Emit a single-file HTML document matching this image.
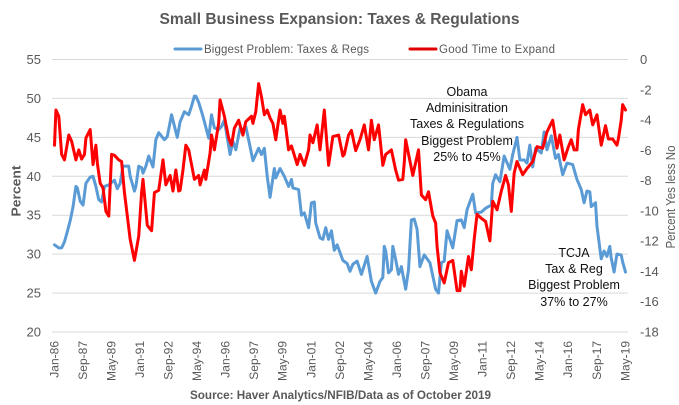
<!DOCTYPE html>
<html lang="en">
<head>
<meta charset="utf-8">
<title>Small Business Expansion: Taxes &amp; Regulations</title>
<style>
html,body{margin:0;padding:0;background:#fff;}
svg{display:block;font-family:"Liberation Sans",sans-serif;}
</style>
</head>
<body>
<svg id="chart" xmlns="http://www.w3.org/2000/svg" width="679" height="405" viewBox="0 0 679 405">
  <rect x="0" y="0" width="679" height="405" fill="#fff"/>
  <text x="339.5" y="24" text-anchor="middle" font-size="15.5" font-weight="bold" fill="#595959" textLength="360" lengthAdjust="spacingAndGlyphs">Small Business Expansion: Taxes &amp; Regulations</text>
  <g id="grid"></g>
  <g id="left-axis"></g>
  <g id="right-axis"></g>
  <g id="x-axis"></g>
  <g id="series"></g>
  <g>
    <g>
      <line x1="175" y1="49" x2="201" y2="49" stroke="#5B9BD5" stroke-width="3" stroke-linecap="round"/>
      <text x="204" y="53" font-size="11.5" fill="#595959" textLength="165" lengthAdjust="spacing">Biggest Problem: Taxes &amp; Regs</text>
    </g>
    <g>
      <line x1="410" y1="49" x2="436" y2="49" stroke="#E00000" stroke-width="3" stroke-linecap="round"/>
      <text x="439" y="53" font-size="11.5" fill="#595959" textLength="116" lengthAdjust="spacing">Good Time to Expand</text>
    </g>
  </g>
  <text transform="translate(20.5,191) rotate(-90)" text-anchor="middle" font-size="13" font-weight="bold" fill="#595959" textLength="51" lengthAdjust="spacingAndGlyphs">Percent</text>
  <text transform="translate(675,197) rotate(-90)" text-anchor="middle" font-size="12.5" fill="#595959" textLength="103" lengthAdjust="spacingAndGlyphs">Percent Yes less No</text>
  <g font-size="12.5" fill="#111" text-anchor="middle">
    <text x="467" y="96">Obama</text>
    <text x="467" y="112">Adminisitration</text>
    <text x="467" y="128">Taxes &amp; Regulations</text>
    <text x="467" y="145">Biggest Problem</text>
    <text x="467" y="161">25% to 45%</text>
  </g>
  <g font-size="12.5" fill="#111" text-anchor="middle">
    <text x="574" y="257">TCJA</text>
    <text x="574" y="273">Tax &amp; Reg</text>
    <text x="574" y="289">Biggest Problem</text>
    <text x="574" y="306">37% to 27%</text>
  </g>
  <text x="340.5" y="399" text-anchor="middle" font-size="12" font-weight="bold" fill="#595959" textLength="301" lengthAdjust="spacingAndGlyphs">Source: Haver Analytics/NFIB/Data as of October 2019</text>
</svg>
<script>
const xTickLabels = ["Jan-86","Sep-87","May-89","Jan-91","Sep-92","May-94","Jan-96","Sep-97","May-99","Jan-01","Sep-02","May-04","Jan-06","Sep-07","May-09","Jan-11","Sep-12","May-14","Jan-16","Sep-17","May-19"];
const xTickEveryMonths = 20;
const leftTicks = [55,50,45,40,35,30,25,20];
const rightTicks = [0,-2,-4,-6,-8,-10,-12,-14,-16,-18];

// Months since Jan-86, with the reading at each one (left axis, percent)
const taxesMonths = [0,3,5,7,9,11,13,15,16,18,20,22,25,27,29,31,33,35,38,40,42,44,46,48,52,53,56,57,59,61,62,64,66,69,71,73,77,79,82,86,88,91,94,96,98,99,101,104,108,110,112,115,117,119,123,
125,127,130,132,134,137,139,143,145,147,149,151,154,155,158,161,164,166,167,171,173,175,178,180,182,183,186,188,190,192,194,196,198,202,205,207,209,212,215,219,222,225,228,230,231,232,234,236,237,239,241,243,246,248,250,252,254,256,259,
263,265,267,269,271,273,275,279,282,285,287,289,293,295,299,302,306,307,309,312,315,319,321,324,326,329,331,333,335,337,341,343,345,348,351,353,356,359,363,366,
369,371,373,375,376,379,380,383,385,387,389,390,392,394,397,398,400];
const taxesValues = [31.2,30.8,30.8,31.6,32.9,34.3,36.1,38.7,38.5,36.8,36.3,39.1,39.9,40,38.7,37,36.7,38.7,38.9,39.2,39.5,38.4,39.1,41.3,41.3,40,38.1,38.7,41.3,41.1,40.4,41.3,42.6,41.2,44.7,45.6,44.7,45.1,47.9,45,47,48.3,47.9,49,50.3,50.3,49.5,47.7,44.9,47.9,46.2,46,46.4,47.2,42.8,
44.5,43.4,46.2,46,46.4,43.8,42,43.6,42.8,43.6,40,37.3,41,39.8,41,40,38.7,39.6,38.5,38.3,35,35.3,33.4,36.6,36.7,34,32.1,31.9,33.4,31.9,33,30.5,31.2,29.2,28.8,27.8,28.7,29.1,27.4,29.7,26.5,25,26.5,27,31,30.4,27.6,28,31,29.3,27.4,28.4,25.5,28,34.4,34.5,33.2,28.4,29.9,
28.9,27.2,25.5,25,28.9,29.1,33,30.8,34.3,34.4,33.4,35.7,37.7,35.3,35.4,35.9,36.3,39.1,40.2,39.3,42.6,40.9,42.8,45,42.1,42.1,41.7,44,41.2,43.6,43,45.7,43.4,45.2,42.3,42.8,40.2,41.7,41.5,39.6,
38.3,36.6,38.1,38,36.1,36.6,33.6,29.4,30.4,29.7,31,29.5,27.7,30,29.9,29,27.7];

// Months since Jan-86, with the reading at each one (right axis, percent yes less no)
const expandMonths = [0,1,3,5,7,10,12,15,17,19,21,22,25,27,29,30,32,34,36,38,40,42,45,47,49,53,56,59,61,62,65,68,70,73,76,78,81,83,85,87,88,90,92,94,98,101,102,105,106,109,110,112,115,116,119,122,124,126,
129,132,134,138,139,141,143,145,147,149,151,153,155,158,160,161,164,166,170,172,175,178,179,181,184,186,189,192,195,199,202,203,206,208,211,214,217,220,222,224,227,230,232,236,239,241,244,245,246,251,255,257,260,262,
265,267,268,270,273,276,279,282,284,285,287,290,292,294,296,299,302,305,307,310,313,316,318,320,322,324,328,331,335,338,342,345,349,352,354,357,360,362,364,366,367,370,372,375,377,380,383,386,388,391,394,395,397,398,400];
const expandValues = [-5.66,-3.34,-3.75,-6.27,-6.63,-4.99,-5.40,-6.63,-5.97,-6.58,-6.27,-5.19,-4.63,-6.94,-5.66,-6.84,-8.18,-8.49,-10.03,-10.34,-6.27,-6.33,-6.63,-6.74,-8.79,-11.88,-13.27,-11.67,-8.79,-7.92,-10.95,-11.31,-8.79,-8.64,-6.63,-8.28,-7.66,-8.69,-7.30,-8.69,-8.64,-7.30,-5.66,-5.97,-7.92,-7.66,-8.28,-7.30,-7.92,-6.17,-4.99,-5.97,-4.22,-2.67,-3.75,-5.19,-5.66,-4.53,
-4.01,-4.99,-4.11,-3.75,-4.22,-3.45,-1.59,-2.47,-3.65,-3.34,-3.86,-4.22,-5.30,-3.34,-4.22,-3.75,-5.97,-5.71,-6.94,-6.27,-6.99,-5.97,-4.99,-5.50,-4.32,-5.97,-3.34,-6.99,-5.09,-4.99,-6.38,-6.27,-4.99,-4.68,-6.02,-5.30,-4.32,-5.97,-4.01,-5.30,-4.32,-6.99,-6.27,-5.97,-7.30,-7.97,-7.92,-6.84,-5.30,-7.66,-5.97,-8.95,-9.26,-8.74,
-10.34,-10.80,-12.34,-14.09,-14.76,-13.42,-13.27,-15.27,-15.27,-13.99,-14.97,-13.01,-13.89,-11.88,-10.23,-10.49,-10.70,-11.98,-9.36,-9.93,-8.69,-7.66,-8.28,-10.03,-7.51,-6.74,-7.61,-7.20,-6.74,-5.76,-5.86,-4.78,-4.01,-5.86,-4.99,-6.63,-5.76,-5.30,-5.97,-5.97,-4.63,-2.98,-3.65,-3.34,-4.32,-3.65,-5.66,-4.37,-5.25,-5.25,-5.66,-5.25,-4.01,-2.98,-3.34];

const NS = "http://www.w3.org/2000/svg";
const plotLeft = 52, plotRight = 628, plotTop = 59.5, plotBottom = 332;

function xScale(month) {
  return 54.5 + month * 1.4275;
}
function yLeft(value) {
  return plotTop + (55 - value) * (plotBottom - plotTop) / 35;
}
function yRight(value) {
  return plotTop + (0 - value) * (plotBottom - plotTop) / 18;
}
function make(tag, attrs) {
  const el = document.createElementNS(NS, tag);
  for (const k in attrs) el.setAttribute(k, attrs[k]);
  return el;
}

const grid = document.getElementById("grid");
const leftAxis = document.getElementById("left-axis");
const rightAxis = document.getElementById("right-axis");
const xAxis = document.getElementById("x-axis");
const series = document.getElementById("series");

leftTicks.forEach(function (v) {
  const line = make("line", {x1: plotLeft, x2: plotRight, y1: yLeft(v), y2: yLeft(v), stroke: "#D9D9D9", "stroke-width": 1});
  
  
  grid.appendChild(line);
  const label = make("text", {x: 41, y: yLeft(v) + 4.5, "text-anchor": "end", "font-size": 13, fill: "#595959"});
  
  
  label.textContent = String(v);
  leftAxis.appendChild(label);
});

rightTicks.forEach(function (v) {
  const label = make("text", {x: 640, y: yRight(v) + 4.5, "font-size": 13, fill: "#595959"});
  
  
  label.textContent = String(v);
  rightAxis.appendChild(label);
});

xTickLabels.forEach(function (t, i) {
  const x = xScale(i * xTickEveryMonths) + 3.8;
  const label = make("text", {transform: "translate(" + x + ",341) rotate(-90)", "text-anchor": "end", "font-size": 12, fill: "#595959"});
  
  
  label.textContent = t;
  xAxis.appendChild(label);
});

function linePath(months, values, yFn) {
  return months.map(function (m, i) {
    return (i ? "L" : "M") + xScale(m).toFixed(2) + " " + yFn(values[i]).toFixed(2);
  }).join("");
}

const taxesLine = make("path", {d: linePath(taxesMonths, taxesValues, yLeft), fill: "none", stroke: "#5B9BD5", "stroke-width": 3, "stroke-linejoin": "round", "stroke-linecap": "round"});


series.appendChild(taxesLine);

const expandLine = make("path", {d: linePath(expandMonths, expandValues, yRight), fill: "none", stroke: "#FF0000", "stroke-width": 3, "stroke-linejoin": "round", "stroke-linecap": "round"});


series.appendChild(expandLine);
</script>
</body>
</html>
